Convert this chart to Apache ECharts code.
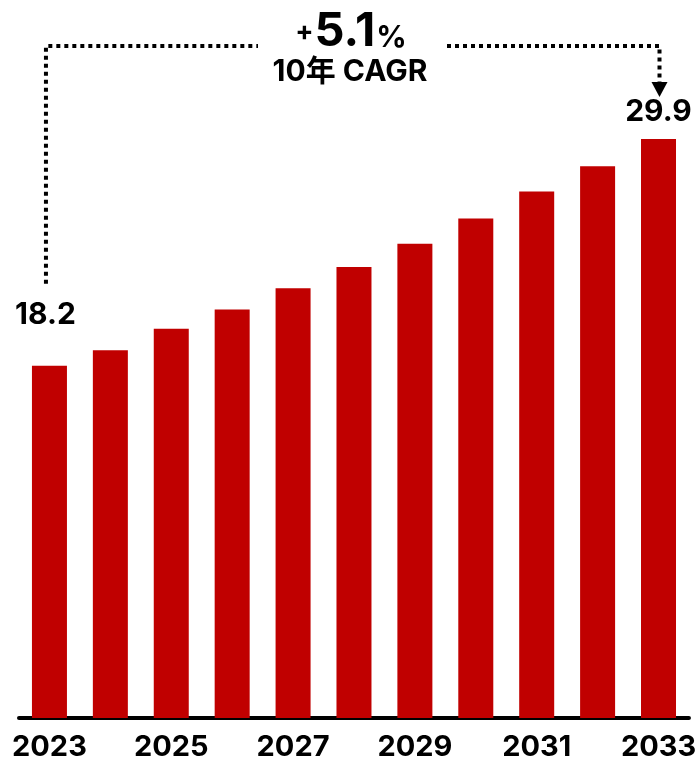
<!DOCTYPE html>
<html>
<head>
<meta charset="utf-8">
<script src="https://cdn.jsdelivr.net/npm/echarts@6/dist/echarts.min.js"></script>
<style>
  html, body { margin: 0; padding: 0; background: #fff; }
  #chart { width: 699px; height: 762px; }
</style>
</head>
<body>
<div id="chart"></div>
<script>
// Market size by year (2023–2033)
const years = ['2023', '2024', '2025', '2026', '2027', '2028', '2029', '2030', '2031', '2032', '2033'];
const marketSize = [18.2, 19.0, 20.1, 21.1, 22.2, 23.3, 24.5, 25.8, 27.2, 28.5, 29.9];
const cagrText = '5.1';
const cagrLabel = '10年 CAGR';

const FONT = 'Inter, "Noto Sans CJK JP", "Noto Sans", sans-serif';
const RED = '#C00000';
const last = marketSize.length - 1;

const barData = marketSize.map((v, i) => {
  if (i === 0) return { value: v, label: { show: true, distance: 36, offset: [-4, 0] } };
  if (i === last) return { value: v, label: { show: true, distance: 12 } };
  return v;
});

const chart = echarts.init(document.getElementById('chart'), null, { renderer: 'canvas' });

chart.setOption({
  animation: false,
  backgroundColor: '#fff',
  grid: { left: 19, right: 7, top: 21, bottom: 44 },
  xAxis: {
    type: 'category',
    data: years,
    axisLine: { lineStyle: { color: '#000', width: 4 } },
    axisTick: { show: false },
    axisLabel: {
      interval: 1,
      margin: 15,
      color: '#000',
      fontSize: 29,
      fontWeight: 700,
      fontFamily: FONT
    }
  },
  yAxis: { type: 'value', min: 0, max: 36, show: false },
  series: [{
    type: 'bar',
    data: barData,
    barWidth: 35,
    itemStyle: { color: RED },
    label: {
      show: false,
      position: 'top',
      color: '#000',
      fontSize: 30,
      fontWeight: 700,
      fontFamily: FONT
    }
  }]
});

// CAGR bracket: dotted line from the first label to an arrow above the last label
const firstPt = chart.convertToPixel({ seriesIndex: 0 }, [0, marketSize[0]]);
const lastPt = chart.convertToPixel({ seriesIndex: 0 }, [last, marketSize[last]]);
const xL = firstPt[0] - 3.5;
const xR = lastPt[0] + 1;
const yTop = 46;
const yLeftEnd = firstPt[1] - 82;
const arrowTip = lastPt[1] - 42;
const arrowTop = arrowTip - 15;
const titleX = 350;

const dotStyle = { stroke: '#000', lineWidth: 4, lineDash: [4, 4], fill: null, lineCap: 'butt' };

chart.setOption({
  graphic: [
    {
      type: 'polyline',
      shape: { points: [[xL, yLeftEnd], [xL, yTop], [titleX - 92, yTop]] },
      style: dotStyle
    },
    {
      type: 'polyline',
      shape: { points: [[titleX + 97, yTop], [xR, yTop], [xR, arrowTop]] },
      style: dotStyle
    },
    {
      type: 'polygon',
      shape: { points: [[xR - 8, arrowTop], [xR + 8, arrowTop], [xR, arrowTip]] },
      style: { fill: '#000' }
    },
    {
      type: 'text',
      x: titleX + 1,
      y: 55,
      style: {
        text: '{p|+}{n|' + cagrText + '}{c|%}',
        align: 'center',
        verticalAlign: 'bottom',
        rich: {
          p: { fontSize: 27, fontWeight: 700, fontFamily: FONT, fill: '#000', verticalAlign: 'bottom', padding: [0, 1, 10, 0] },
          n: { fontSize: 47, fontWeight: 700, fontFamily: FONT, fill: '#000', verticalAlign: 'bottom' },
          c: { fontSize: 30, fontWeight: 700, fontFamily: FONT, fill: '#000', verticalAlign: 'bottom', padding: [0, 0, 2, 1] }
        }
      }
    },
    {
      type: 'text',
      x: titleX,
      y: 72,
      style: {
        text: cagrLabel,
        align: 'center',
        verticalAlign: 'middle',
        fontSize: 30,
        fontWeight: 700,
        fontFamily: FONT,
        fill: '#000'
      }
    }
  ]
});
</script>
</body>
</html>
